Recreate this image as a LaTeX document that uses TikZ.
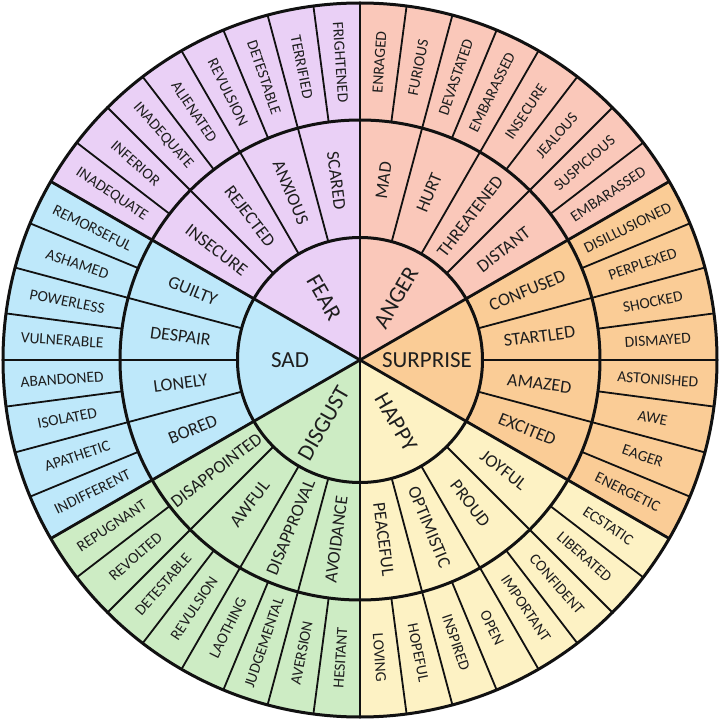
\documentclass[tikz,border=0pt]{standalone}
\usepackage{fontspec}
\setmainfont{Carlito}
\definecolor{fearc}{HTML}{EAD0F6}
\definecolor{angerc}{HTML}{FAC8BA}
\definecolor{surpc}{HTML}{FACC96}
\definecolor{happyc}{HTML}{FDF2C4}
\definecolor{disgc}{HTML}{CDECC4}
\definecolor{sadc}{HTML}{BEE8FA}
\definecolor{txt}{HTML}{1E1E1E}
\definecolor{ink}{HTML}{111111}
\begin{document}
\begin{tikzpicture}[x=1pt,y=1pt,
  outerlbl/.style={font=\fontsize{15.5}{16}\selectfont, text=txt, inner sep=0pt},
  midlbl/.style={font=\fontsize{18}{19}\selectfont, text=txt, inner sep=0pt},
  corelbl/.style={font=\fontsize{23}{24}\selectfont, text=txt, inner sep=0pt},
  ringline/.style={draw=ink, line width=3pt},
  divline/.style={draw=ink, line width=1.8pt, line cap=round},
  coreline/.style={draw=ink, line width=2.8pt, line cap=round}]
\def\Ra{122.5}\def\Rb{240}\def\Rc{357}
\useasboundingbox (-360,-363) rectangle (360,360);
\fill[white] (-360,-363) rectangle (360,360);
% sectors
\foreach \s/\c in {90/fearc, 30/angerc, -30/surpc, -90/happyc, -150/disgc, 150/sadc}
  \fill[\c] (0,0) -- (\s:\Rc) arc[start angle=\s, end angle=\s+60, radius=\Rc] -- cycle;
% divisions
\foreach \k in {0,...,47} \draw[divline] (\k*7.5:\Rb) -- (\k*7.5:\Rc);
\foreach \k in {0,...,23} \draw[divline] (\k*15:\Ra) -- (\k*15:\Rb);
\foreach \k in {0,...,5} \draw[coreline] (0,0) -- (30+\k*60:\Rc);
% rings
\draw[ringline] (0,0) circle[radius=\Ra];
\draw[ringline] (0,0) circle[radius=\Rb];
\draw[ringline] (0,0) circle[radius=\Rc];
% outer labels
\foreach \a/\t [count=\i] in {93.75/FRIGHTENED, 101.25/TERRIFIED, 108.75/DETESTABLE, 116.25/REVULSION, 123.75/ALIENATED, 131.25/INADEQUATE, 138.75/INFERIOR, 146.25/INADEQUATE,
 153.75/REMORSEFUL, 161.25/ASHAMED, 168.75/POWERLESS, 176.25/VULNERABLE, 183.75/ABANDONED, 191.25/ISOLATED, 198.75/APATHETIC, 206.25/INDIFFERENT,
 213.75/REPUGNANT, 221.25/REVOLTED, 228.75/DETESTABLE, 236.25/REVULSION, 243.75/LAOTHING, 251.25/JUDGEMENTAL, 258.75/AVERSION, 266.25/HESITANT,
 273.75/LOVING, 281.25/HOPEFUL, 288.75/INSPIRED, 296.25/OPEN, 303.75/IMPORTANT, 311.25/CONFIDENT, 318.75/LIBERATED, 326.25/ECSTATIC,
 333.75/ENERGETIC, 341.25/EAGER, 348.75/AWE, 356.25/ASTONISHED, 3.75/DISMAYED, 11.25/SHOCKED, 18.75/PERPLEXED, 26.25/DISILLUSIONED,
 33.75/EMBARASSED, 41.25/SUSPICIOUS, 48.75/JEALOUS, 56.25/INSECURE, 63.75/EMBARASSED, 71.25/DEVASTATED, 78.75/FURIOUS, 86.25/ENRAGED}
{
  \pgfmathsetmacro\rot{cos(\a)>=0 ? \a : \a+180}
  \node[outerlbl, rotate=\rot] (o\i) at (\a:298.5) {\t};
}
% middle labels
\foreach \a/\t [count=\i] in {97.5/SCARED, 112.5/ANXIOUS, 127.5/REJECTED, 142.5/INSECURE, 157.5/GUILTY, 172.5/DESPAIR, 187.5/LONELY, 202.5/BORED,
 217.5/DISAPPOINTED, 232.5/AWFUL, 247.5/DISAPPROVAL, 262.5/AVOIDANCE, 277.5/PEACEFUL, 292.5/OPTIMISTIC, 307.5/PROUD, 322.5/JOYFUL,
 337.5/EXCITED, 352.5/AMAZED, 7.5/STARTLED, 22.5/CONFUSED, 37.5/DISTANT, 52.5/THREATENED, 67.5/HURT, 82.5/MAD}
{
  \pgfmathsetmacro\rot{cos(\a)>=0 ? \a : \a+180}
  \node[midlbl, rotate=\rot] (m\i) at (\a:181) {\t};
}
% core labels
\foreach \a/\t/\r [count=\i] in {120/FEAR/72, 60/ANGER/72, 0/SURPRISE/67, 300/HAPPY/72, 240/DISGUST/73, 180/SAD/70}
{
  \pgfmathsetmacro\rot{cos(\a)>=0 ? \a : \a+180}
  \node[corelbl, rotate=\rot] (c\i) at (\a:\r) {\t};
}
\end{tikzpicture}
\end{document}
